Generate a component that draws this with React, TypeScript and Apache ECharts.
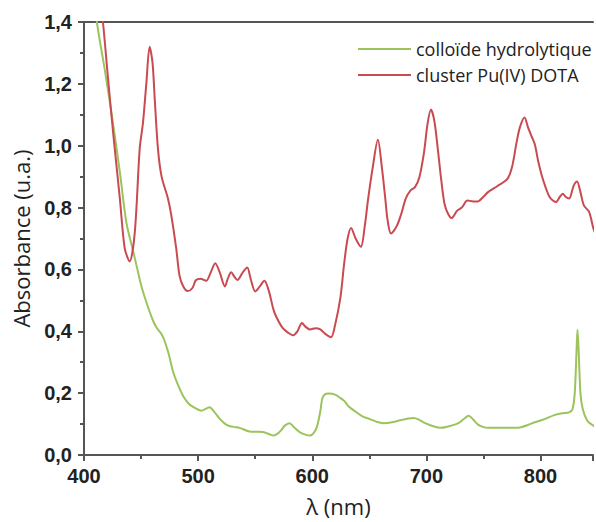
import React, { useEffect, useRef } from "react";
import * as echarts from "echarts";

const wavelengthsColloid = [405, 411.3, 418, 424, 431.4, 437.2, 443, 446.5, 450, 455, 461, 464, 468, 470, 474, 478, 482, 487, 492, 496, 503, 507, 510, 514, 519, 524, 528, 533, 537, 545, 551, 557, 562, 566, 570, 573, 576, 580, 584, 589, 594, 598, 601, 604, 607, 609, 612, 615, 620, 624, 628, 632, 638, 644, 650, 656, 662, 670, 678, 684, 689, 694, 699, 706, 713, 720, 728, 733, 737, 741, 745, 750, 754, 762, 771, 778, 783, 789, 795, 803, 812, 819, 825, 828, 830, 831.5, 832.4, 833.5, 835, 837, 841, 846, 850];
const colloidValues = [1.62, 1.4, 1.25, 1.108, 0.915, 0.75, 0.66, 0.605, 0.55, 0.49, 0.43, 0.41, 0.39, 0.375, 0.33, 0.27, 0.23, 0.19, 0.165, 0.155, 0.143, 0.15, 0.154, 0.14, 0.117, 0.1, 0.093, 0.09, 0.087, 0.076, 0.075, 0.074, 0.068, 0.063, 0.07, 0.081, 0.095, 0.103, 0.09, 0.074, 0.066, 0.063, 0.07, 0.09, 0.14, 0.185, 0.198, 0.199, 0.195, 0.186, 0.175, 0.157, 0.14, 0.125, 0.117, 0.108, 0.103, 0.106, 0.113, 0.118, 0.12, 0.113, 0.103, 0.093, 0.088, 0.093, 0.103, 0.117, 0.127, 0.115, 0.099, 0.09, 0.088, 0.088, 0.088, 0.088, 0.09, 0.097, 0.106, 0.115, 0.129, 0.135, 0.138, 0.148, 0.2, 0.33, 0.405, 0.33, 0.2, 0.149, 0.111, 0.096, 0.088];

const wavelengthsCluster = [410, 416.6, 421, 425.5, 431.4, 435.7, 440, 444.5, 448.8, 451.7, 454.6, 457.5, 460, 462, 464.8, 468, 473.5, 476.5, 480.8, 483.7, 487, 491, 495, 498, 502, 507, 511, 515, 519, 523.5, 526, 529, 532, 534.5, 539, 543, 546, 550, 554, 558, 562, 566, 569, 574, 579, 583, 587, 591, 594, 598, 603, 607, 612, 616.5, 620, 624.6, 628, 631, 634, 638, 642.6, 646, 649, 653, 657.5, 661, 664, 666, 669, 674, 678, 682, 686, 690, 694, 698, 701, 704, 707, 710, 713, 716, 719, 722, 727, 731, 736, 741, 745, 750, 754, 762, 771, 775, 779, 782, 786, 789, 792, 795, 798, 802, 808, 813.5, 817, 819.5, 822, 825, 829, 832, 835, 838, 842.6, 846.4, 850];
const clusterValues = [1.62, 1.4, 1.22, 1.043, 0.83, 0.668, 0.626, 0.72, 0.99, 1.075, 1.2, 1.32, 1.27, 1.15, 0.99, 0.9, 0.83, 0.775, 0.668, 0.58, 0.545, 0.53, 0.54, 0.565, 0.57, 0.563, 0.59, 0.62, 0.59, 0.545, 0.57, 0.591, 0.575, 0.566, 0.59, 0.606, 0.57, 0.529, 0.545, 0.563, 0.53, 0.47, 0.443, 0.411, 0.395, 0.387, 0.4, 0.427, 0.415, 0.406, 0.41, 0.406, 0.39, 0.381, 0.42, 0.507, 0.62, 0.7, 0.734, 0.7, 0.673, 0.74, 0.829, 0.93, 1.019, 0.93, 0.829, 0.76, 0.716, 0.74, 0.78, 0.83, 0.855, 0.866, 0.9, 0.98, 1.07, 1.117, 1.08, 0.99, 0.89, 0.81, 0.78, 0.766, 0.79, 0.8, 0.823, 0.82, 0.82, 0.835, 0.85, 0.869, 0.893, 0.93, 1.01, 1.06, 1.091, 1.06, 1.032, 1.005, 0.95, 0.893, 0.834, 0.818, 0.835, 0.845, 0.835, 0.829, 0.87, 0.884, 0.85, 0.807, 0.786, 0.732, 0.7];

const seriesNames = ["colloïde hydrolytique", "cluster Pu(IV) DOTA"];
const xTickLabels = ["400", "500", "600", "700", "800"];
const yTickLabels = ["0,0", "0,2", "0,4", "0,6", "0,8", "1,0", "1,2", "1,4"];

const AXIS = "#555555";

export default function App() {
  const ref = useRef<HTMLDivElement>(null);
  useEffect(() => {
    if (!ref.current) return;
    const chart = echarts.init(ref.current, null, { renderer: "svg" });
    const colloid = wavelengthsColloid.map((w, i) => [w, colloidValues[i]]);
    const cluster = wavelengthsCluster.map((w, i) => [w, clusterValues[i]]);
    chart.setOption({
      animation: false,
      backgroundColor: "#ffffff",
      grid: { left: 84, right: 0, top: 22, bottom: 64 },
      legend: {
        orient: "vertical",
        left: 353,
        top: 35,
        icon: "rect",
        itemWidth: 53,
        itemHeight: 2,
        itemGap: 8,
        data: seriesNames,
        textStyle: { fontFamily: "Open Sans", fontSize: 18, color: "#222", lineHeight: 18 },
      },
      xAxis: [
        {
          type: "value",
          min: 400,
          max: 846,
          interval: 100,
          name: "λ (nm)",
          nameLocation: "middle",
          nameGap: 40,
          nameTextStyle: { fontFamily: "Open Sans", fontSize: 22, color: "#222" },
          axisLine: { show: true, lineStyle: { color: AXIS, width: 2 } },
          axisTick: { show: true, length: 6, lineStyle: { color: AXIS, width: 2 } },
          minorTick: { show: true, splitNumber: 2, length: 4, lineStyle: { color: AXIS, width: 2 } },
          splitLine: { show: false },
          axisLabel: {
            margin: 11,
            fontFamily: "Liberation Sans",
            fontWeight: "bold",
            fontSize: 20,
            color: "#222",
            formatter: (v: number) => (xTickLabels.includes(String(v)) ? String(v) : ""),
          },
        },
        {
          type: "value",
          position: "top",
          min: 400,
          max: 846,
          interval: 100,
          axisLine: { show: true, lineStyle: { color: AXIS, width: 2 } },
          axisTick: { show: false },
          axisLabel: { show: false },
          splitLine: { show: false },
        },
      ],
      yAxis: {
        type: "value",
        min: 0,
        max: 1.4,
        interval: 0.2,
        name: "Absorbance (u.a.)",
        nameLocation: "middle",
        nameGap: 52,
        nameTextStyle: { fontFamily: "Open Sans", fontSize: 22, color: "#222" },
        axisLine: { show: true, lineStyle: { color: AXIS, width: 2 } },
        axisTick: { show: true, length: 6, lineStyle: { color: AXIS, width: 2 } },
        minorTick: { show: true, splitNumber: 2, length: 4, lineStyle: { color: AXIS, width: 2 } },
        splitLine: { show: false },
        axisLabel: {
          margin: 12,
          fontFamily: "Liberation Sans",
          fontWeight: "bold",
          fontSize: 20,
          color: "#222",
          formatter: (v: number) => yTickLabels[Math.round(v / 0.2)] ?? "",
        },
      },
      series: [
        {
          name: seriesNames[0],
          type: "line",
          data: colloid,
          symbol: "none",
          smooth: 0.3,
          clip: true,
          color: "#9cc35c",
          lineStyle: { color: "#9cc35c", width: 2 },
        },
        {
          name: seriesNames[1],
          type: "line",
          data: cluster,
          symbol: "none",
          smooth: 0.3,
          clip: true,
          color: "#c94a50",
          lineStyle: { color: "#c94a50", width: 2 },
        },
      ],
    });
    return () => chart.dispose();
  }, []);
  return (
    <div
      ref={ref}
      style={{ position: "absolute", left: 0, top: 0, width: 596, height: 522 }}
    />
  );
}
